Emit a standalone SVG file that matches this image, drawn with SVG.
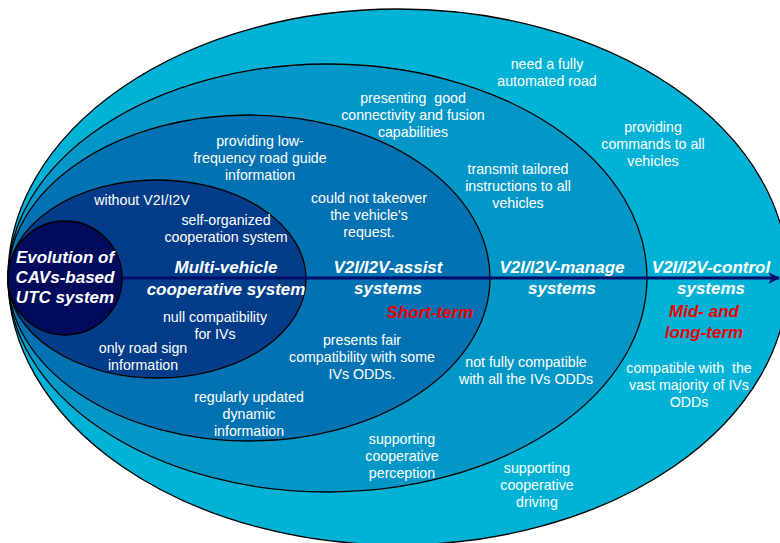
<svg xmlns="http://www.w3.org/2000/svg" width="780" height="543" viewBox="0 0 780 543">
<style>
.e{stroke:#000;stroke-width:1.3}
.t{font-family:"Liberation Sans",Arial,sans-serif;font-size:14.2px;fill:#fff;text-anchor:middle;white-space:pre}
.h{font-family:"Liberation Sans",Arial,sans-serif;font-size:17px;font-weight:bold;font-style:italic;fill:#fff;text-anchor:middle}
.r{font-family:"Liberation Sans",Arial,sans-serif;font-size:17px;font-weight:bold;font-style:italic;fill:#f00000;text-anchor:middle}
</style>
<defs>
<marker id="ah" viewBox="0 0 10 10" refX="9" refY="5" markerWidth="4" markerHeight="5" orient="auto" markerUnits="strokeWidth">
<path d="M0,0 L10,5 L0,10 L3,5 Z" fill="#000e6a"/>
</marker>
</defs>
<rect width="780" height="543" fill="#fff"/>
<g id="control">
<ellipse class="e" cx="398" cy="277" rx="390" ry="268" fill="#00b2d6"/>
<text class="t" x="547" y="69">need a fully</text>
<text class="t" x="547" y="86">automated road</text>
<text class="t" x="653" y="132">providing</text>
<text class="t" x="653" y="149">commands to all</text>
<text class="t" x="653" y="166">vehicles</text>
<text class="t" x="689" y="373" xml:space="preserve">compatible with  the</text>
<text class="t" x="689" y="390">vast majority of IVs</text>
<text class="t" x="689" y="407">ODDs</text>
<text class="t" x="537" y="473">supporting</text>
<text class="t" x="537" y="490">cooperative</text>
<text class="t" x="537" y="507">driving</text>
</g>
<g id="manage">
<ellipse class="e" cx="327.5" cy="278" rx="319.5" ry="214" fill="#0397c8"/>
<text class="t" x="413" y="103" xml:space="preserve">presenting  good</text>
<text class="t" x="413" y="120">connectivity and fusion</text>
<text class="t" x="413" y="137">capabilities</text>
<text class="t" x="518" y="174">transmit tailored</text>
<text class="t" x="518" y="191">instructions to all</text>
<text class="t" x="518" y="208">vehicles</text>
<text class="t" x="526" y="367">not fully compatible</text>
<text class="t" x="526" y="384">with all the IVs ODDs</text>
<text class="t" x="402" y="444">supporting</text>
<text class="t" x="402" y="461">cooperative</text>
<text class="t" x="402" y="478">perception</text>
</g>
<g id="assist">
<ellipse class="e" cx="249" cy="278" rx="241" ry="163" fill="#0272b2"/>
<text class="t" x="260" y="146">providing low-</text>
<text class="t" x="260" y="163">frequency road guide</text>
<text class="t" x="260" y="180">information</text>
<text class="t" x="369" y="203">could not takeover</text>
<text class="t" x="369" y="220">the vehicle's</text>
<text class="t" x="369" y="237">request.</text>
<text class="t" x="362" y="345">presents fair</text>
<text class="t" x="362" y="362">compatibility with some</text>
<text class="t" x="362" y="379">IVs ODDs.</text>
<text class="t" x="249" y="402">regularly updated</text>
<text class="t" x="249" y="419">dynamic</text>
<text class="t" x="249" y="436">information</text>
</g>
<g id="multi">
<ellipse class="e" cx="157" cy="279" rx="149" ry="99" fill="#033d89"/>
<text class="t" x="142" y="205">without V2I/I2V</text>
<text class="t" x="226" y="225">self-organized</text>
<text class="t" x="226" y="242">cooperation system</text>
<text class="t" x="215" y="322">null compatibility</text>
<text class="t" x="215" y="339">for IVs</text>
<text class="t" x="143" y="353">only road sign</text>
<text class="t" x="143" y="370">information</text>
</g>
<g id="connectors">
<line x1="122" y1="278" x2="779" y2="278" stroke="#000e6a" stroke-width="3" marker-end="url(#ah)"/>
</g>
<g id="labels">
<text class="h" x="226" y="273">Multi-vehicle</text>
<text class="h" x="226" y="295">cooperative system</text>
<text class="h" x="388" y="273">V2I/I2V-assist</text>
<text class="h" x="388" y="294">systems</text>
<text class="r" x="430" y="318">Short-term</text>
<text class="h" x="562" y="273">V2I/I2V-manage</text>
<text class="h" x="562" y="294">systems</text>
<text class="h" x="711" y="273">V2I/I2V-control</text>
<text class="h" x="711" y="294">systems</text>
<text class="r" x="704" y="317">Mid- and</text>
<text class="r" x="704" y="338">long-term</text>
</g>
<g id="origin">
<ellipse class="e" cx="65" cy="278" rx="57" ry="57" fill="#020a5c"/>
<text class="h" x="65" y="263">Evolution of</text>
<text class="h" x="65" y="283">CAVs-based</text>
<text class="h" x="65" y="303">UTC system</text>
</g>
</svg>
